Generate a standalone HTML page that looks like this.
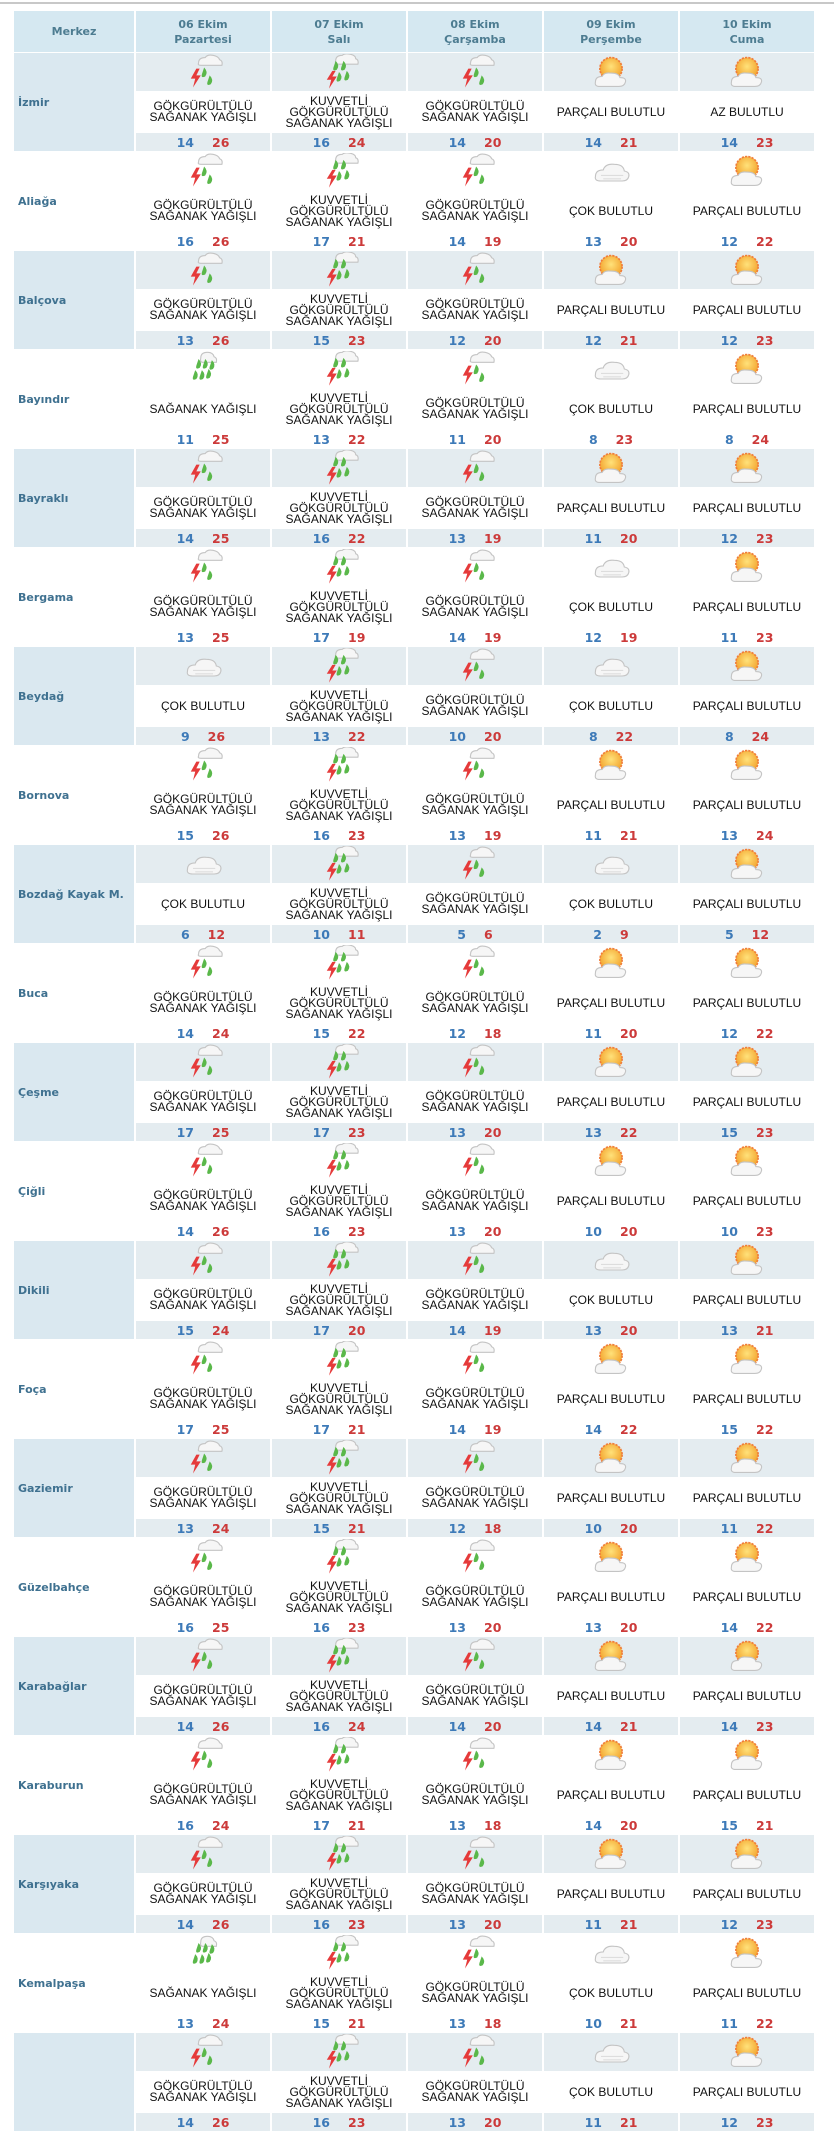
<!DOCTYPE html>
<html><head><meta charset="utf-8"><style>
body{margin:0;background:#fff;width:834px;height:2048px;overflow:hidden;position:relative;font-family:"DejaVu Sans","Liberation Sans",sans-serif}
.top{position:absolute;left:0;top:2px;width:834px;height:2px;background:#c8c8c8}
table{position:absolute;left:12px;top:10px;border-collapse:separate;border-spacing:2px 1px;table-layout:fixed}
th{background:#d5e8f1;color:#4d7c91;font-size:11px;font-weight:bold;height:41px;line-height:15px;padding:0}
td{padding:0;text-align:center}
td.n{text-align:left;padding-left:4px;font-size:11px;font-weight:bold;color:#3f7190;vertical-align:middle}
tr.a td.n{background:#dae8f0}
tr.a td.i,tr.at td{background:#e4ecf0}
.i{height:38px}
.t{height:40px;font-family:"Liberation Sans",sans-serif;font-size:12px;line-height:11px;color:#111}
.tp td{height:18px;font-size:12.5px;font-weight:bold;font-family:"DejaVu Sans",sans-serif}
.b{color:#3d7ab8;margin-right:18px}.r{color:#cc3a3a}
svg{display:block;margin:0 auto}
</style></head><body>
<div class="top"></div>
<svg width="0" height="0" style="position:absolute">
<defs>
<radialGradient id="sg" cx="0.5" cy="0.4" r="0.6"><stop offset="0" stop-color="#ffe27a"/><stop offset="1" stop-color="#f2a02a"/></radialGradient>
<symbol id="cl" viewBox="0 0 36 32"><path d="M4 21 q0-6 7-6 q2-6 10-5 q8 0 9 6 q5 1 4 5 q-1 4-6 4 h-19 q-6 0-5-4z" fill="#f6f6f6" stroke="#c4c4c4" stroke-width="1"/><path d="M9 20 h20 M11 23 h16" stroke="#ddd"/></symbol>
<symbol id="pb" viewBox="0 0 36 32"><circle cx="18" cy="13" r="10" fill="url(#sg)" stroke="#f07d3a" stroke-width="1.5" stroke-dasharray="2 1"/><path d="M4 25 q0-5 6-5 q2-4 8-3 q7 0 8 4 q6 0 5 4 q-1 4-6 4 h-17 q-5 0-4-4z" fill="#f6f6f6" stroke="#c4c4c4" stroke-width="1"/></symbol>
<symbol id="gs" viewBox="0 0 36 32"><path d="M14 8 q0-5 6-5 q2-3 7-2 q5 1 6 4 q3 1 2 5 h-19 q-3 0-2-2z" fill="#f6f6f6" stroke="#c4c4c4"/><path d="M12 13 l-5 9 h4 l-2 8 l7-11 h-4 l3-6z" fill="#e53a3a"/><path d="M19 12 q4 4 1 8 q-4 2-3-2z M24 19 q4 4 1 8 q-4 2-3-2z" fill="#5ab84a"/></symbol>
<symbol id="kv" viewBox="0 0 36 32"><path d="M15 6 q0-5 6-5 q2-2 7-1 q5 1 5 4 q3 1 2 5 h-18 q-3 0-2-3z" fill="#f6f6f6" stroke="#c4c4c4"/><path d="M12 15 l-5 8 h4 l-2 8 l7-11 h-4 l3-5z" fill="#e53a3a"/><path d="M15 6 q4 4 1 8 q-4 2-3-2z M22 6 q4 4 1 8 q-4 2-3-2z M18 16 q4 4 1 8 q-4 2-3-2z M25 15 q4 4 1 8 q-4 2-3-2z" fill="#5ab84a"/></symbol>
<symbol id="sy" viewBox="0 0 36 32"><path d="M16 6 q0-5 6-5 q5 0 6 4 q3 1 2 5 h-12 q-3 0-2-4z" fill="#f6f6f6" stroke="#c4c4c4"/><path d="M14 7 q4 4 1 8 q-4 2-3-2z M20 7 q4 4 1 8 q-4 2-3-2z M26 8 q4 4 1 8 q-4 2-3-2z M11 17 q4 4 1 8 q-4 2-3-2z M17 17 q4 4 1 8 q-4 2-3-2z M23 16 q4 4 1 8 q-4 2-3-2z" fill="#5ab84a"/></symbol>
</defs></svg>
<table>
<colgroup><col style="width:120px"><col style="width:134px"><col style="width:134px"><col style="width:134px"><col style="width:134px"><col style="width:134px"></colgroup>
<tr><th>Merkez</th><th>06 Ekim<br>Pazartesi</th><th>07 Ekim<br>Salı</th><th>08 Ekim<br>Çarşamba</th><th>09 Ekim<br>Perşembe</th><th>10 Ekim<br>Cuma</th></tr>
<tbody id="b"></tbody>
</table>
<script>
var D=[["İzmir","gs 14 26","kv 16 24","gs 14 20","pb 14 21","az 14 23"],
["Aliağa","gs 16 26","kv 17 21","gs 14 19","cl 13 20","pb 12 22"],
["Balçova","gs 13 26","kv 15 23","gs 12 20","pb 12 21","pb 12 23"],
["Bayındır","sy 11 25","kv 13 22","gs 11 20","cl 8 23","pb 8 24"],
["Bayraklı","gs 14 25","kv 16 22","gs 13 19","pb 11 20","pb 12 23"],
["Bergama","gs 13 25","kv 17 19","gs 14 19","cl 12 19","pb 11 23"],
["Beydağ","cl 9 26","kv 13 22","gs 10 20","cl 8 22","pb 8 24"],
["Bornova","gs 15 26","kv 16 23","gs 13 19","pb 11 21","pb 13 24"],
["Bozdağ Kayak M.","cl 6 12","kv 10 11","gs 5 6","cl 2 9","pb 5 12"],
["Buca","gs 14 24","kv 15 22","gs 12 18","pb 11 20","pb 12 22"],
["Çeşme","gs 17 25","kv 17 23","gs 13 20","pb 13 22","pb 15 23"],
["Çiğli","gs 14 26","kv 16 23","gs 13 20","pb 10 20","pb 10 23"],
["Dikili","gs 15 24","kv 17 20","gs 14 19","cl 13 20","pb 13 21"],
["Foça","gs 17 25","kv 17 21","gs 14 19","pb 14 22","pb 15 22"],
["Gaziemir","gs 13 24","kv 15 21","gs 12 18","pb 10 20","pb 11 22"],
["Güzelbahçe","gs 16 25","kv 16 23","gs 13 20","pb 13 20","pb 14 22"],
["Karabağlar","gs 14 26","kv 16 24","gs 14 20","pb 14 21","pb 14 23"],
["Karaburun","gs 16 24","kv 17 21","gs 13 18","pb 14 20","pb 15 21"],
["Karşıyaka","gs 14 26","kv 16 23","gs 13 20","pb 11 21","pb 12 23"],
["Kemalpaşa","sy 13 24","kv 15 21","gs 13 18","cl 10 21","pb 11 22"],
["","gs 14 26","kv 16 23","gs 13 20","cl 11 21","pb 12 23"]];
var T={gs:"GÖKGÜRÜLTÜLÜ<br>SAĞANAK YAĞIŞLI",kv:"KUVVETLİ<br>GÖKGÜRÜLTÜLÜ<br>SAĞANAK YAĞIŞLI",sy:"SAĞANAK YAĞIŞLI",cl:"ÇOK BULUTLU",pb:"PARÇALI BULUTLU",az:"AZ BULUTLU"};
var h="";
D.forEach(function(r,k){var a=k%2==0?"a":"";var r1='<tr class="'+a+'"><td class="n" rowspan="3">'+r[0]+'</td>',r2='<tr class="'+a+'">',r3='<tr class="tp '+(a?"at":"")+'">';
for(var j=1;j<6;j++){var p=r[j].split(" ");var ic=p[0]=="az"?"pb":p[0];
r1+='<td class="i"><svg width="40" height="36"><use href="#'+ic+'"/></svg></td>';
r2+='<td class="t">'+T[p[0]]+'</td>';r3+='<td><span class="b">'+p[1]+'</span><span class="r">'+p[2]+'</span></td>';}
h+=r1+'</tr>'+r2+'</tr>'+r3+'</tr>';});
document.getElementById("b").innerHTML=h;
</script>
</body></html>
